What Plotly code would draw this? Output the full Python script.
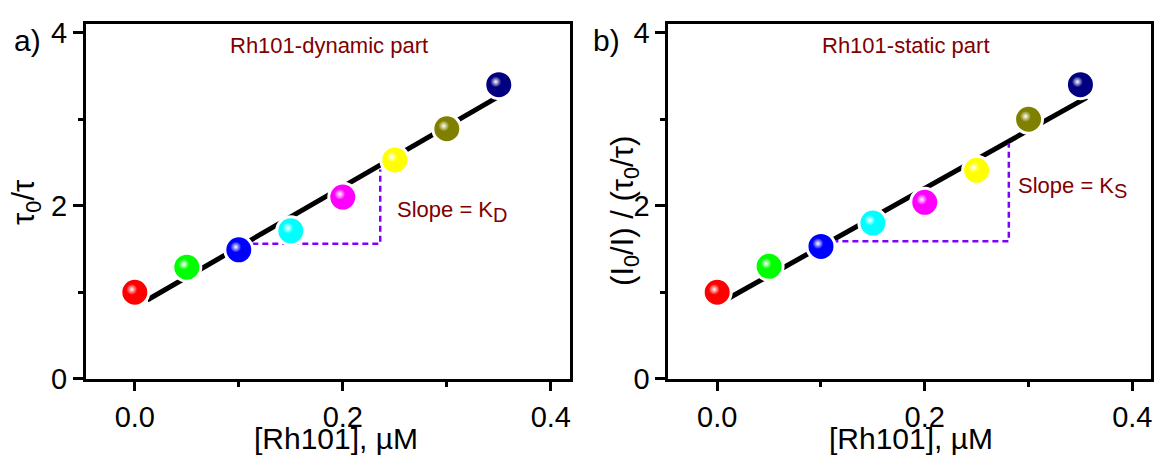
import plotly.graph_objects as go

# Rh101 concentration (µM)
conc = [0.0, 0.05, 0.10, 0.15, 0.20, 0.25, 0.30, 0.35]

# Stern-Volmer data: dynamic part (tau0/tau) and static part ((I0/I)/(tau0/tau))
tau_ratio = [1.00, 1.29, 1.49, 1.71, 2.10, 2.53, 2.89, 3.40]
static_ratio = [1.00, 1.30, 1.53, 1.80, 2.04, 2.41, 3.00, 3.40]

# Linear fit end points
fit_dyn_x = [0.012, 0.348]
fit_dyn_y = [0.91, 3.25]
fit_sta_x = [0.011, 0.356]
fit_sta_y = [0.93, 3.25]

# Slope triangles
kd_x = [0.113, 0.236, 0.236]
kd_y = [1.56, 1.56, 2.42]
ks_x = [0.111, 0.281, 0.281]
ks_y = [1.59, 1.59, 2.72]

point_colors = ["#FF0000", "#00FF00", "#0000FF", "#00FFFF",
                "#FF00FF", "#FFFF00", "#808000", "#000080"]

x_ticks_major = [0.0, 0.2, 0.4]
y_ticks_major = [0, 2, 4]

W, H = 1156, 467
FONT = "Liberation Sans"
WINE = "#800000"
VIOLET = "#8000FF"

# plot-area geometry (pixels from the top-left corner)
left_px = (86, 570)
right_px = (669, 1152)
top_px, bottom_px = 18, 391
hl = 3  # highlight offset for the glossy spheres

def xdom(a, b, shift=0):
    return [(a + shift) / W, (b + shift) / W]

ydom = [(H - bottom_px) / H, (H - top_px) / H]
ydom_hl = [(H - bottom_px + hl) / H, (H - top_px + hl) / H]

fig = go.Figure()

panels = [
    ("x", "y", "x3", "y3", tau_ratio, fit_dyn_x, fit_dyn_y, kd_x, kd_y),
    ("x2", "y2", "x4", "y4", static_ratio, fit_sta_x, fit_sta_y, ks_x, ks_y),
]

for xa, ya, xh, yh, vals, fx, fy, tx, ty in panels:
    fig.add_trace(go.Scatter(x=fx, y=fy, mode="lines", xaxis=xa, yaxis=ya,
                             line=dict(color="black", width=5), showlegend=False))
    fig.add_trace(go.Scatter(x=tx, y=ty, mode="lines", xaxis=xa, yaxis=ya,
                             line=dict(color=VIOLET, width=2.5, dash="6px,4px"),
                             showlegend=False))
    fig.add_trace(go.Scatter(x=conc, y=vals, mode="markers", xaxis=xa, yaxis=ya,
                             marker=dict(size=28, color=point_colors,
                                         line=dict(color="white", width=3)),
                             showlegend=False))
    # specular highlight on each sphere
    fig.add_trace(go.Scatter(x=conc, y=vals, mode="markers", xaxis=xh, yaxis=yh,
                             marker=dict(size=11, color=point_colors,
                                         gradient=dict(type="radial", color="white"),
                                         line=dict(width=0)),
                             showlegend=False, hoverinfo="skip"))

xrng = [-0.047, 0.418]
yrng = [0, 4.1]

axis_common = dict(showgrid=False, zeroline=False, showline=True, linewidth=3,
                   linecolor="black", mirror=True, ticks="outside", tickwidth=3,
                   tickcolor="black", tickfont=dict(family=FONT, size=29, color="black"))

xa_common = dict(axis_common, range=xrng, tickvals=x_ticks_major,
                 ticktext=["0.0", "0.2", "0.4"], ticklen=9, ticklabelstandoff=1,
                 minor=dict(dtick=0.1, tick0=0, ticks="outside", ticklen=5,
                            tickwidth=3, tickcolor="black"))
ya_common = dict(axis_common, range=yrng, tickvals=y_ticks_major, ticklen=10,
                 minor=dict(dtick=1, tick0=0, ticks="outside", ticklen=5,
                            tickwidth=3, tickcolor="black"))

hidden = dict(visible=False, showgrid=False, zeroline=False, fixedrange=True)

fig.update_layout(
    width=W, height=H, autosize=False,
    margin=dict(l=0, r=0, t=0, b=0, pad=0),
    paper_bgcolor="white", plot_bgcolor="rgba(0,0,0,0)",
    xaxis=dict(xa_common, domain=xdom(*left_px), anchor="y"),
    yaxis=dict(ya_common, domain=ydom, anchor="x"),
    xaxis2=dict(xa_common, domain=xdom(*right_px), anchor="y2"),
    yaxis2=dict(ya_common, domain=ydom, anchor="x2"),
    xaxis3=dict(hidden, range=xrng, domain=xdom(*left_px, shift=-hl), anchor="y3"),
    yaxis3=dict(hidden, range=yrng, domain=ydom_hl, anchor="x3"),
    xaxis4=dict(hidden, range=xrng, domain=xdom(*right_px, shift=-hl), anchor="y4"),
    yaxis4=dict(hidden, range=yrng, domain=ydom_hl, anchor="x4"),
)

def px_ann(text, x, y, size, color="black", angle=0, xanchor="center",
           yanchor="middle", yshift=0):
    fig.add_annotation(text=text, x=x / W, y=1 - y / H, xref="paper", yref="paper",
                       showarrow=False, textangle=angle, xanchor=xanchor,
                       yanchor=yanchor, yshift=yshift,
                       font=dict(family=FONT, size=size, color=color))

# panel letters
px_ann("a)", 28, 35, 30)
px_ann("b)", 607, 35, 30)
# panel titles
px_ann("Rh101-dynamic part", 329, 40, 22, WINE)
px_ann("Rh101-static part", 907, 40, 22, WINE)
# axis titles
px_ann("[Rh101], µM", 336, H, 30, yanchor="bottom", yshift=-6)
px_ann("[Rh101], µM", 912, H, 30, yanchor="bottom", yshift=-6)
px_ann("τ<sub>0</sub>/τ", 26, 205, 31, angle=-90)
px_ann("(I<sub>0</sub>/I) / (τ<sub>0</sub>/τ)", 626, 214, 31, angle=-90)

# slope labels in data coordinates
sub_style = "<sub><span style='font-size:20px'>%s</span></sub>"
fig.add_annotation(text="Slope = K" + sub_style % "D", x=0.25, y=1.93,
                   xref="x", yref="y", showarrow=False, xanchor="left",
                   yanchor="middle", font=dict(family=FONT, size=22, color=WINE))
fig.add_annotation(text="Slope = K" + sub_style % "S", x=0.288, y=2.21,
                   xref="x2", yref="y2", showarrow=False, xanchor="left",
                   yanchor="middle", font=dict(family=FONT, size=22, color=WINE))

fig.write_html("out.html", config={"responsive": False})
